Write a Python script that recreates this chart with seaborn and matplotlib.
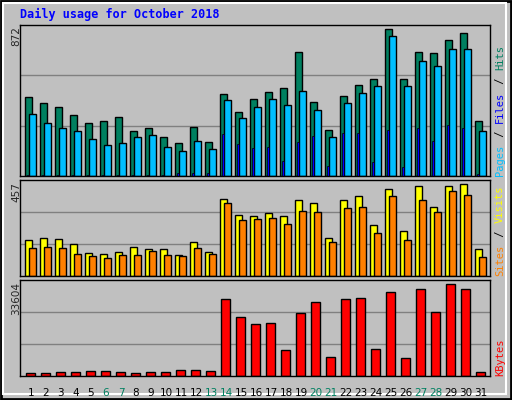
import numpy as np
import matplotlib
matplotlib.use("Agg")
import matplotlib.pyplot as plt
import seaborn as sns

# ── data ──────────────────────────────────────────────────────────────
days = list(range(1, 32))
weekend = [6, 7, 13, 14, 20, 21, 27, 28]
hits = [472, 436, 412, 365, 317, 329, 353, 270, 288, 234, 198, 293, 202,
        485, 378, 456, 499, 521, 735, 438, 271, 474, 539, 575, 872, 575,
        735, 729, 806, 848, 329]
files = [371, 317, 287, 270, 222, 186, 198, 234, 246, 174, 147, 206, 163,
         450, 343, 412, 456, 420, 503, 390, 230, 432, 491, 533, 830, 533,
         682, 652, 753, 753, 265]
pages = [6, 6, 6, 6, 6, 6, 6, 6, 6, 6, 16, 16, 16,
         248, 188, 164, 170, 87, 200, 236, 58, 254, 254, 81, 272, 52,
         284, 206, 301, 284, 10]
sites = [179, 189, 184, 159, 114, 109, 119, 144, 134, 134, 104, 169, 119,
         383, 303, 298, 313, 298, 378, 363, 189, 378, 397, 253, 432, 223,
         447, 343, 447, 457, 134]
visits = [139, 144, 139, 109, 99, 89, 104, 104, 124, 104, 99, 139, 109,
          363, 278, 283, 288, 258, 323, 318, 169, 338, 343, 213, 397, 179,
          378, 318, 422, 402, 94]
kbytes = [858, 858, 1226, 1226, 1594, 1594, 1226, 858, 1226, 1226, 1962,
          1962, 1594, 28116, 21493, 18917, 19284, 9351, 22965, 27012, 6775,
          28116, 28484, 9719, 30692, 6407, 31796, 23333, 33604, 31796, 1226]

BG = "#C0C0C0"
W, H = 512, 400
sns.set_style("white")
plt.rcParams["font.family"] = ["DejaVu Sans Mono"]

fig = plt.figure(figsize=(W / 100, H / 100), dpi=100, facecolor=BG)


def px_axes(x0, y0, x1, y1):
    return fig.add_axes([x0 / W, 1 - y1 / H, (x1 - x0) / W, (y1 - y0) / H])


x = np.arange(len(days))
xlim = (-0.33, 31.0)

panels = [
    (24.7, 176.0, 899),
    (180.0, 276.3, 478),
    (280.3, 375.7, 35075),
]
axes = []
for top, bot, ymax in panels:
    ax = px_axes(20, top, 490, bot)
    ax.set_facecolor(BG)
    ax.set_xlim(*xlim)
    ax.set_ylim(0, ymax)
    for f in (1 / 3, 2 / 3):
        ax.axhline(ymax * f, color="#808080", lw=1, zorder=0)
    ax.set_xticks([])
    ax.set_yticks([])
    for s in ax.spines.values():
        s.set_color("black")
        s.set_linewidth(1)
    axes.append(ax)

ax1, ax2, ax3 = axes
kw = dict(align="edge", edgecolor="black", linewidth=1)
ax1.bar(x, hits, width=0.47, color="#008060", **kw)
ax1.bar(x + 0.27, files, width=0.47, color="#00BFFF", **kw)
ax1.bar(x + 0.13, pages, width=0.13, color="#0000FF", edgecolor="black",
        linewidth=0.5, align="edge")
ax2.bar(x, sites, width=0.47, color="#FFFF00", **kw)
ax2.bar(x + 0.27, visits, width=0.47, color="#FF8000", **kw)
ax3.bar(x + 0.07, kbytes, width=0.6, color="#FF0000", **kw)

# ── text ──────────────────────────────────────────────────────────────
fig.text(20 / W, 1 - 14 / H, "Daily usage for October 2018", color="#0000FF",
         fontsize=8.5, fontweight="bold", va="center")
for lab, ytop in [("872", 26), ("457", 182), ("33604", 282)]:
    fig.text(16 / W, 1 - ytop / H, lab, rotation=90, fontsize=7.5,
             ha="center", va="top", family="DejaVu Sans")

for d in days:
    col = "#008060" if d in weekend else "black"
    ax3.text(d - 1 + 0.4, -0.13, str(d), transform=ax3.get_xaxis_transform(),
             ha="center", va="top", fontsize=7.5, color=col,
             family="DejaVu Sans")


def right_label(parts, ybottom):
    y = ybottom
    for txt, col in parts:
        fig.text(500 / W, 1 - y / H, txt, rotation=90, color=col,
                 fontsize=7.5, ha="center", va="bottom")
        y -= len(txt) * 6.6


right_label([("Pages", "#00BFFF"), (" / ", "black"), ("Files", "#0000FF"),
             (" / ", "black"), ("Hits", "#008060")], 176)
right_label([("Sites", "#FF8000"), (" / ", "black"), ("Visits", "#FFFF00")], 276)
right_label([("KBytes", "#FF0000")], 376)

# outer frame
frame = fig.add_axes([0, 0, 1, 1], zorder=-1)
frame.set_xlim(0, W)
frame.set_ylim(H, 0)
frame.axis("off")
frame.add_patch(plt.Rectangle((1, 1), W - 2, H - 2, fill=False,
                              edgecolor="black", lw=2))
frame.add_patch(plt.Rectangle((3, 3), W - 9, H - 9, fill=False,
                              edgecolor="white", lw=1.5))

fig.savefig("out.png", dpi=100, facecolor=BG)
